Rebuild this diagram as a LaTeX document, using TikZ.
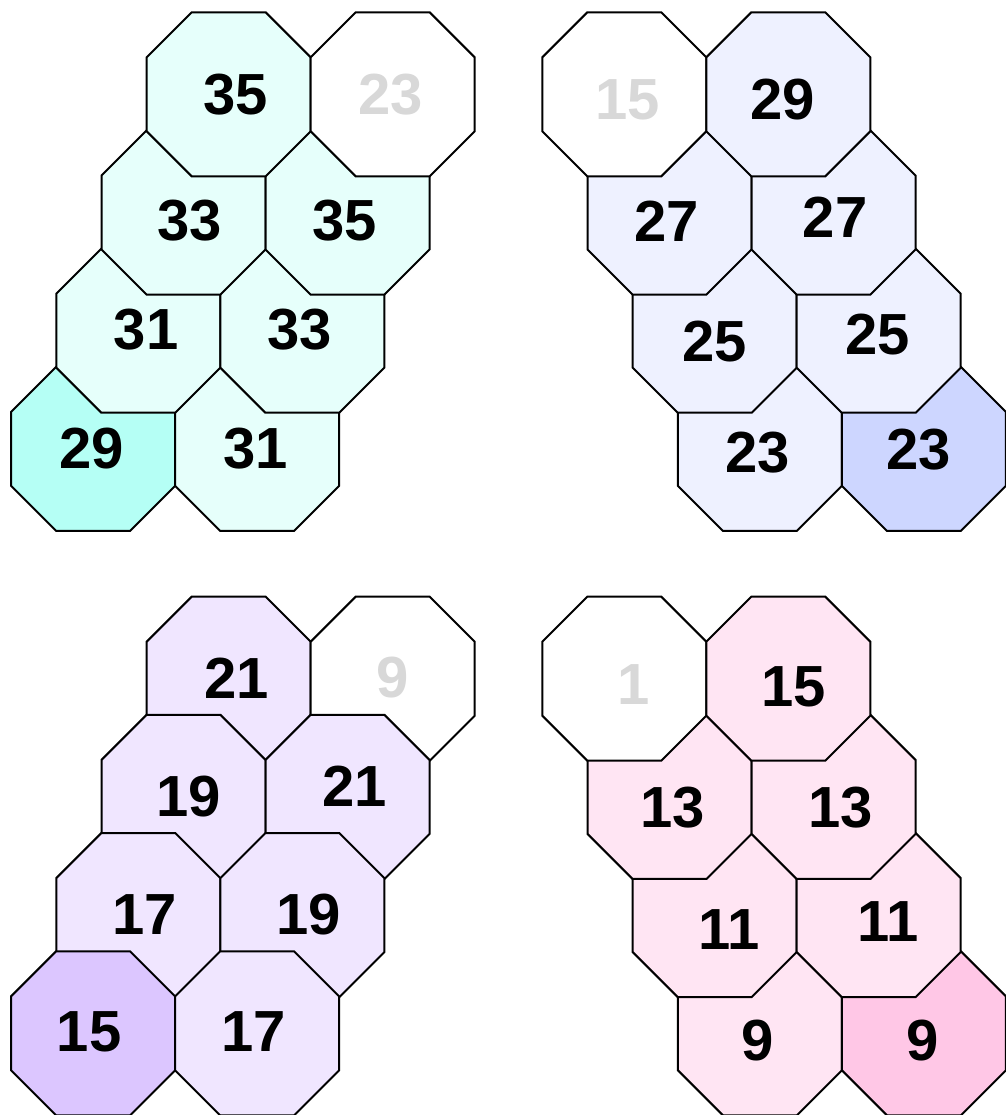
\documentclass[tikz,border=0pt]{standalone}
\usepackage{fontspec}
\setmainfont{Liberation Sans}
\definecolor{tlL}{RGB}{230,255,251}
\definecolor{tlD}{RGB}{181,255,245}
\definecolor{trL}{RGB}{238,241,255}
\definecolor{trD}{RGB}{205,214,255}
\definecolor{blL}{RGB}{240,230,255}
\definecolor{blD}{RGB}{220,198,255}
\definecolor{brL}{RGB}{255,229,243}
\definecolor{brD}{RGB}{255,199,230}
\definecolor{greytxt}{RGB}{216,216,216}
\tikzset{
  cell/.style={draw=black, line width=2pt, line join=miter},
  lab/.style={font=\fontsize{58}{60}\selectfont\bfseries, inner sep=0pt, text=black},
  ghost/.style={lab, text=greytxt}
}
\newcommand\octcell[3]{%
  \path[cell, fill=#3] (#1+45,#2) -- (#1+119,#2) -- (#1+164,#2+45) -- (#1+164,#2+119)
    -- (#1+119,#2+164) -- (#1+45,#2+164) -- (#1,#2+119) -- (#1,#2+45) -- cycle;}
\begin{document}
\begin{tikzpicture}[x=1pt,y=-1pt]
\path[use as bounding box, fill=white] (0,0) rectangle (1005,1115);

% ---------- top-left group (upper rows on top) ----------
\octcell{11.1}{366.9}{tlD}\octcell{175.1}{366.9}{tlL}
\octcell{56.3}{248.7}{tlL}\octcell{220.3}{248.7}{tlL}
\octcell{101.5}{130.5}{tlL}\octcell{265.5}{130.5}{tlL}
\octcell{146.7}{12.3}{tlL}\octcell{310.7}{12.3}{white}
\node[lab]   (tl00) at (235.8,94.3) {35};
\node[ghost] (tl01) at (390.3,94.3) {23};
\node[lab]   (tl10) at (189.8,221.0) {33};
\node[lab]   (tl11) at (344.7,220.2) {35};
\node[lab]   (tl20) at (146.1,329.5) {31};
\node[lab]   (tl21) at (299.8,329.5) {33};
\node[lab]   (tl30) at (91.5,448.5) {29};
\node[lab]   (tl31) at (255.8,448.9) {31};

% ---------- top-right group (upper rows on top) ----------
\octcell{677.9}{366.9}{trL}\octcell{841.9}{366.9}{trD}
\octcell{632.7}{248.7}{trL}\octcell{796.7}{248.7}{trL}
\octcell{587.5}{130.5}{trL}\octcell{751.5}{130.5}{trL}
\octcell{542.3}{12.3}{white}\octcell{706.3}{12.3}{trL}
\node[ghost] (tr00) at (627.4,99.8) {15};
\node[lab]   (tr01) at (782.5,99.4) {29};
\node[lab]   (tr10) at (666.8,221.2) {27};
\node[lab]   (tr11) at (835.2,216.9) {27};
\node[lab]   (tr20) at (714.7,341.5) {25};
\node[lab]   (tr21) at (877.4,334.6) {25};
\node[lab]   (tr30) at (757.9,452.8) {23};
\node[lab]   (tr31) at (918.8,449.2) {23};

% ---------- bottom-left group (lower rows on top) ----------
\octcell{146.7}{596.7}{blL}\octcell{310.7}{596.7}{white}
\octcell{101.5}{714.9}{blL}\octcell{265.5}{714.9}{blL}
\octcell{56.3}{833.1}{blL}\octcell{220.3}{833.1}{blL}
\octcell{11.1}{951.3}{blD}\octcell{175.1}{951.3}{blL}
\node[lab]   (bl00) at (236.3,678.0) {21};
\node[ghost] (bl01) at (392.7,677.5) {9};
\node[lab]   (bl10) at (188.8,796.4) {19};
\node[lab]   (bl11) at (354.6,786.7) {21};
\node[lab]   (bl20) at (144.4,914.4) {17};
\node[lab]   (bl21) at (308.4,915.0) {19};
\node[lab]   (bl30) at (89.1,1031.6) {15};
\node[lab]   (bl31) at (253.7,1031.9) {17};

% ---------- bottom-right group (upper rows on top) ----------
\octcell{677.9}{951.3}{brL}\octcell{841.9}{951.3}{brD}
\octcell{632.7}{833.1}{brL}\octcell{796.7}{833.1}{brL}
\octcell{587.5}{714.9}{brL}\octcell{751.5}{714.9}{brL}
\octcell{542.3}{596.7}{white}\octcell{706.3}{596.7}{brL}
\node[ghost] (br00) at (633.7,684.3) {1};
\node[lab]   (br01) at (793.7,686.7) {15};
\node[lab]   (br10) at (672.8,807.7) {13};
\node[lab]   (br11) at (840.4,807.7) {13};
\node[lab]   (br20) at (729.4,929.8) {11};
\node[lab]   (br21) at (887.9,922.0) {11};
\node[lab]   (br30) at (757.9,1040.3) {9};
\node[lab]   (br31) at (922.8,1040.3) {9};
\end{tikzpicture}
\end{document}
